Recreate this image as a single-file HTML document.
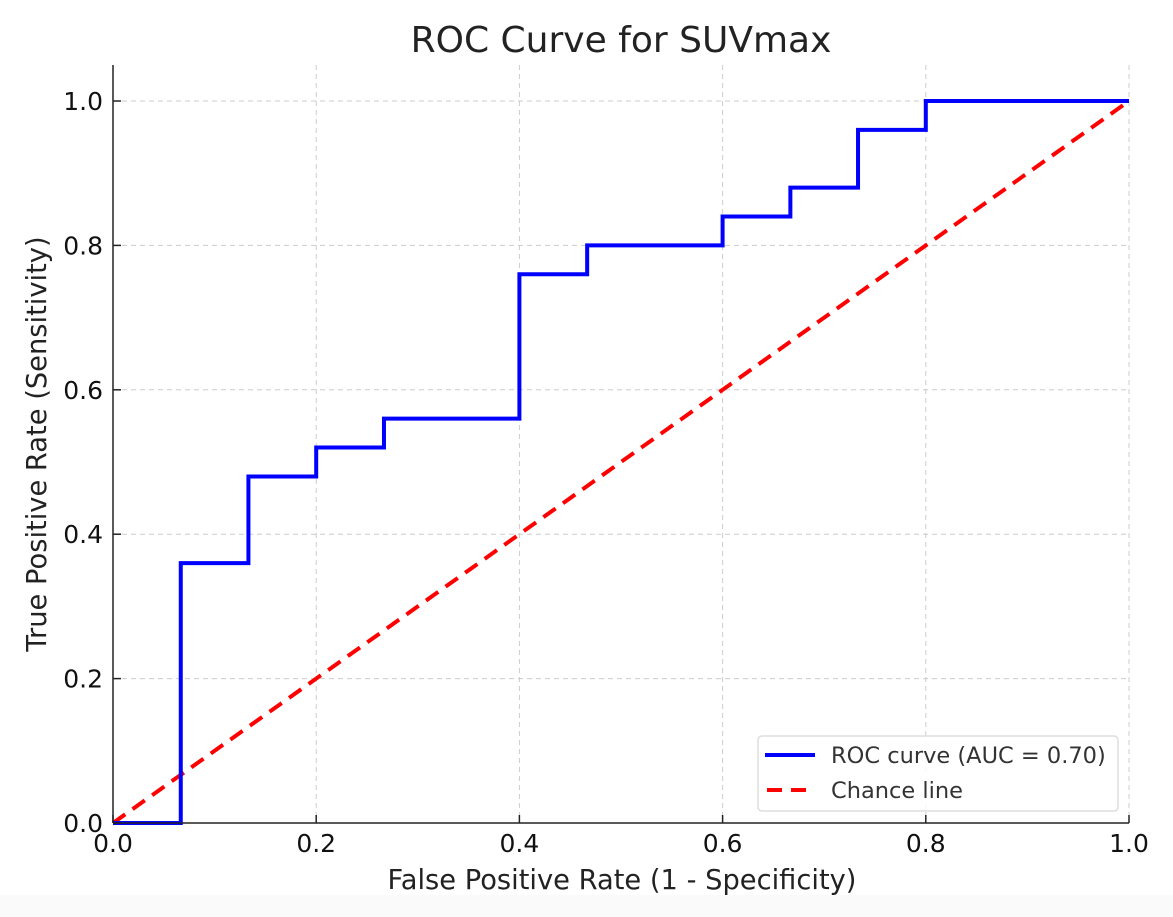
<!DOCTYPE html>
<html><head><meta charset="utf-8"><style>
body{margin:0;background:#fff;}
svg{display:block;font-family:"DejaVu Sans","Liberation Sans",sans-serif;}
</style></head><body>
<svg id="chart" width="1173" height="917">
<rect x="0" y="895" width="1173" height="22" fill="#fafafa"/>
</svg>
<script>
const fpr=[0,0.0667,0.0667,0.1333,0.1333,0.2,0.2,0.2667,0.2667,0.4,0.4,0.4667,0.4667,0.6,0.6,0.6667,0.6667,0.7333,0.7333,0.8,0.8,1];
const tpr=[0,0,0.36,0.36,0.48,0.48,0.52,0.52,0.56,0.56,0.76,0.76,0.80,0.80,0.84,0.84,0.88,0.88,0.96,0.96,1,1];
const chanceX=[0,1];
const chanceY=[0,1];
const xTicks=[0,0.2,0.4,0.6,0.8,1.0];
const yTicks=[0,0.2,0.4,0.6,0.8,1.0];
const NS="http://www.w3.org/2000/svg";
const svg=document.getElementById('chart');
const X=v=>113+v*1016, Y=v=>823-v*722;
function mk(t,a,p){const e=document.createElementNS(NS,t);for(const k in a)e.setAttribute(k,a[k]);(p||svg).appendChild(e);return e;}
xTicks.forEach(t=>{const l=mk('line',{x1:X(t),x2:X(t),y1:65,y2:823,stroke:'#ccc','stroke-dasharray':'5,4','stroke-width':1});

});
yTicks.forEach(t=>{const l=mk('line',{x1:113,x2:1129,y1:Y(t),y2:Y(t),stroke:'#ccc','stroke-dasharray':'5,4','stroke-width':1});

});
const ch=mk('polyline',{points:chanceX.map((v,i)=>X(v)+','+Y(chanceY[i])).join(' '),fill:'none',stroke:'#ff0000','stroke-width':4,'stroke-dasharray':'15,9'});


const roc=mk('polyline',{points:fpr.map((v,i)=>X(v)+','+Y(tpr[i])).join(' '),fill:'none',stroke:'#0000ff','stroke-width':4,'stroke-linejoin':'miter'});


const ax=mk('line',{x1:113,x2:1129,y1:823,y2:823,stroke:'#222','stroke-width':1.5});


const ay=mk('line',{x1:113,x2:113,y1:65,y2:823,stroke:'#222','stroke-width':1.5});


xTicks.forEach(t=>{mk('line',{x1:X(t),x2:X(t),y1:815,y2:823,stroke:'#222','stroke-width':1.5});
const tx=mk('text',{x:X(t),y:852,'font-size':25,'text-anchor':'middle',fill:'#111'});tx.textContent=t.toFixed(1);

});
yTicks.forEach(t=>{mk('line',{x1:113,x2:121,y1:Y(t),y2:Y(t),stroke:'#222','stroke-width':1.5});
const tx=mk('text',{x:103,y:Y(t)+9,'font-size':25,'text-anchor':'end',fill:'#111'});tx.textContent=t.toFixed(1);

});
const ti=mk('text',{x:621,y:52,'font-size':36,'text-anchor':'middle',fill:'#222'});ti.textContent='ROC Curve for SUVmax';


const xt=mk('text',{x:622,y:889,'font-size':27.3,'text-anchor':'middle',fill:'#222'});xt.textContent='False Positive Rate (1 - Specificity)';


const yt=mk('text',{x:46,y:444,'font-size':27.3,'text-anchor':'middle',fill:'#222',transform:'rotate(-90 46 444)'});yt.textContent='True Positive Rate (Sensitivity)';


const lg=mk('g',{});


mk('rect',{x:758,y:736,width:360,height:75,rx:4,fill:'#fff','fill-opacity':0.85,stroke:'#ddd','stroke-width':1.5},lg);
mk('line',{x1:765,x2:815,y1:755,y2:755,stroke:'#0000ff','stroke-width':4},lg);
mk('line',{x1:767,x2:815,y1:790,y2:790,stroke:'#ff0000','stroke-width':4,'stroke-dasharray':'15,9'},lg);
const l1=mk('text',{x:831,y:763,'font-size':22.5,fill:'#333'},lg);l1.textContent='ROC curve (AUC = 0.70)';


const l2=mk('text',{x:831,y:798,'font-size':22.5,fill:'#333'},lg);l2.textContent='Chance line';


</script>
</body></html>
